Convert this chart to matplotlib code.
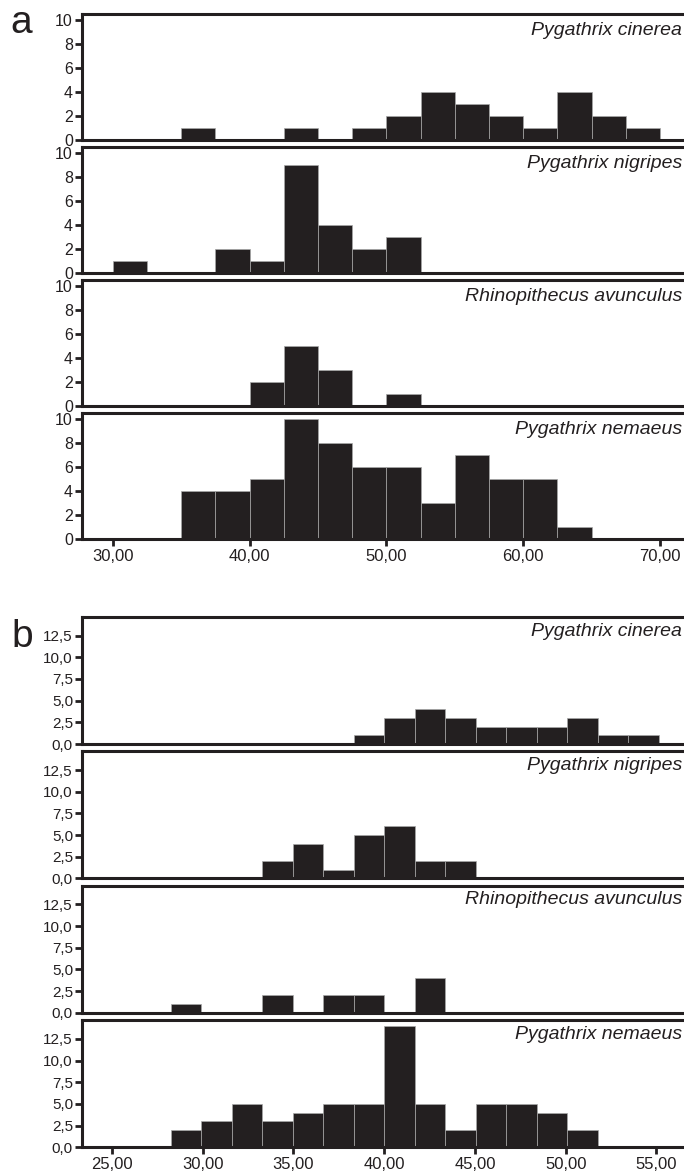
import matplotlib
matplotlib.use("Agg")
import matplotlib.pyplot as plt
import numpy as np

# ---------------- data ----------------
species = ["Pygathrix cinerea", "Pygathrix nigripes",
           "Rhinopithecus avunculus", "Pygathrix nemaeus"]

# panel a: bins of width 2.5 from 30 to 70
a_bin_edges = [30.0, 32.5, 35.0, 37.5, 40.0, 42.5, 45.0, 47.5, 50.0,
               52.5, 55.0, 57.5, 60.0, 62.5, 65.0, 67.5, 70.0]
a_cinerea = [0, 0, 1, 0, 0, 1, 0, 1, 2, 4, 3, 2, 1, 4, 2, 1]
a_nigripes = [1, 0, 0, 2, 1, 9, 4, 2, 3, 0, 0, 0, 0, 0, 0, 0]
a_avunculus = [0, 0, 0, 0, 2, 5, 3, 0, 1, 0, 0, 0, 0, 0, 0, 0]
a_nemaeus = [0, 0, 4, 4, 5, 10, 8, 6, 6, 3, 7, 5, 5, 1, 0, 0]

# panel b: bins of width ~1.68 from 28.25
b_bin_edges = [28.25, 29.93, 31.61, 33.29, 34.97, 36.65, 38.33, 40.01,
               41.69, 43.37, 45.05, 46.73, 48.41, 50.09, 51.77, 53.45, 55.13]
b_cinerea = [0, 0, 0, 0, 0, 0, 1, 3, 4, 3, 2, 2, 2, 3, 1, 1]
b_nigripes = [0, 0, 0, 2, 4, 1, 5, 6, 2, 2, 0, 0, 0, 0, 0, 0]
b_avunculus = [1, 0, 0, 2, 0, 2, 2, 0, 4, 0, 0, 0, 0, 0, 0, 0]
b_nemaeus = [2, 3, 5, 3, 4, 5, 5, 14, 5, 2, 5, 5, 4, 2, 0, 0]

a_xticks = [30, 40, 50, 60, 70]
a_xticklabels = ["30,00", "40,00", "50,00", "60,00", "70,00"]
a_yticks = [0, 2, 4, 6, 8, 10]
a_yticklabels = ["0", "2", "4", "6", "8", "10"]

b_xticks = [25, 30, 35, 40, 45, 50, 55]
b_xticklabels = ["25,00", "30,00", "35,00", "40,00", "45,00", "50,00", "55,00"]
b_yticks = [0, 2.5, 5.0, 7.5, 10.0, 12.5]
b_yticklabels = ["0,0", "2,5", "5,0", "7,5", "10,0", "12,5"]

# ---------------- style ----------------
W, H, DPI = 684, 1171, 100
DARK = "#231f20"
EDGE = "#a8a8a8"
REG = ["Liberation Sans", "DejaVu Sans"]
NARROW = ["Liberation Sans Narrow", "Liberation Sans", "DejaVu Sans"]

fig = plt.figure(figsize=(W / DPI, H / DPI), dpi=DPI)
fig.patch.set_facecolor("white")

LEFT_PX, RIGHT_PX = 82, 690


def make_axes(top_px, bot_px):
    return fig.add_axes([LEFT_PX / W, 1 - bot_px / H,
                         (RIGHT_PX - LEFT_PX) / W, (bot_px - top_px) / H])


def style_axes(ax, show_x, yticks, yticklabels, xticks, xticklabels,
               yfont, xfont, yfs, xfs):
    for sp in ax.spines.values():
        sp.set_color(DARK)
        sp.set_linewidth(2.2)
    ax.set_yticks(yticks)
    ax.set_yticklabels(yticklabels, family=yfont, fontsize=yfs)
    ax.tick_params(axis="y", direction="out", length=5, width=2.0,
                   color=DARK, pad=1.5, labelcolor=DARK)
    ax.set_xticks(xticks)
    if show_x:
        ax.set_xticklabels(xticklabels, family=xfont, fontsize=xfs)
        ax.tick_params(axis="x", direction="out", length=5, width=2.0,
                       color=DARK, pad=2, labelcolor=DARK)
    else:
        ax.tick_params(axis="x", length=0, labelbottom=False)


def draw_panel(ax, edges, counts):
    edges = np.asarray(edges, dtype=float)
    widths = np.diff(edges)
    ax.bar(edges[:-1], counts, width=widths, align="edge",
           color=DARK, edgecolor=EDGE, linewidth=0.5, zorder=2)


a_counts = [a_cinerea, a_nigripes, a_avunculus, a_nemaeus]
b_counts = [b_cinerea, b_nigripes, b_avunculus, b_nemaeus]

# panel a
for i, (name, cnt) in enumerate(zip(species, a_counts)):
    top = 14 + 133.1 * i
    bot = top + 125.5
    ax = make_axes(top, bot)
    draw_panel(ax, a_bin_edges, cnt)
    ax.set_xlim(27.75, 72.2)
    ax.set_ylim(0, 10.48)
    style_axes(ax, i == 3, a_yticks, a_yticklabels, a_xticks, a_xticklabels,
               REG, REG, 11.5, 12)
    fig.text(682 / W, 1 - (top + 16.5) / H, name, ha="right", va="center",
             style="italic", fontsize=14, family=REG, color=DARK)

# panel b
for i, (name, cnt) in enumerate(zip(species, b_counts)):
    top = 617 + 134.4 * i
    bot = top + 127
    ax = make_axes(top, bot)
    draw_panel(ax, b_bin_edges, cnt)
    ax.set_xlim(23.35, 56.85)
    ax.set_ylim(0, 14.65)
    style_axes(ax, i == 3, b_yticks, b_yticklabels, b_xticks, b_xticklabels,
               NARROW, NARROW, 11, 12)
    fig.text(682 / W, 1 - (top + 14) / H, name, ha="right", va="center",
             style="italic", fontsize=14, family=REG, color=DARK)

fig.text(10 / W, 1 - 33 / H, "a", fontsize=28, family=REG, color=DARK,
         ha="left", va="baseline")
fig.text(11 / W, 1 - 647 / H, "b", fontsize=28, family=REG, color=DARK,
         ha="left", va="baseline")

fig.savefig("out.png", dpi=DPI, facecolor="white")
